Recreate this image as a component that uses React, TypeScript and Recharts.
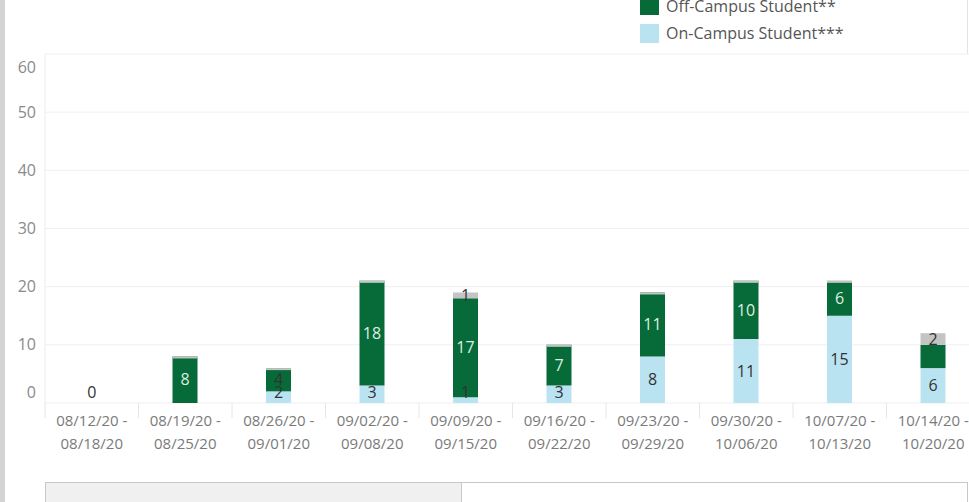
import React from 'react';
import { BarChart, Bar, XAxis, YAxis, CartesianGrid, LabelList, ReferenceDot } from 'recharts';

const weekStarts = ['08/12/20', '08/19/20', '08/26/20', '09/02/20', '09/09/20', '09/16/20', '09/23/20', '09/30/20', '10/07/20', '10/14/20'];
const weekEnds = ['08/18/20', '08/25/20', '09/01/20', '09/08/20', '09/15/20', '09/22/20', '09/29/20', '10/06/20', '10/13/20', '10/20/20'];
const onCampus: (number | null)[] = [0, null, 2, 3, 1, 3, 8, 11, 15, 6];
const offCampus: (number | null)[] = [null, 8, 4, 18, 17, 7, 11, 10, 6, 4];
const other: (number | null)[] = [null, null, null, null, 1, null, null, null, null, 2];
const hiddenOffLabels = ['10/14/20 - 10/20/20'];
const yTicks = [0, 10, 20, 30, 40, 50, 60];

const GREEN = '#066b38';
const BLUE = '#bae3f2';
const GRAY = '#c4c4c4';
const FONT = '"Open Sans", sans-serif';

const data = weekStarts.map((s, i) => ({
  week: `${s} - ${weekEnds[i]}`,
  start: s,
  end: weekEnds[i],
  on: onCampus[i],
  off: offCampus[i],
  other: other[i],
}));

const zeroRows = data.filter((d) => d.on === 0);

const onText = (d: any) => (d.on === null || d.on === undefined || d.on === 0 ? null : String(d.on));
const offText = (d: any) => (!d.off || hiddenOffLabels.includes(d.week) ? null : String(d.off));
const otherText = (d: any) => (!d.other ? null : String(d.other));

const XTick = (props: any) => {
  const { x, y, payload } = props;
  const half = payload && typeof payload.offset === 'number' && payload.offset > 0 ? payload.offset : 46.75;
  const d = data.find((r) => r.week === payload.value);
  return (
    <g>
      <line x1={x - half} x2={x - half} y1={y} y2={y + 15} stroke="#e6e6e6" />
      <text x={x} y={y + 23} textAnchor="middle" fill="#7a7a7a" fontSize={15} fontFamily={FONT}>
        {d ? d.start + ' -' : ''}
      </text>
      <text x={x} y={y + 46} textAnchor="middle" fill="#7a7a7a" fontSize={15} fontFamily={FONT}>
        {d ? d.end : ''}
      </text>
    </g>
  );
};

const YTick = (props: any) => {
  const { y, payload } = props;
  let shift = 0;
  if (payload.value === 0) shift = -11;
  if (payload.value === 60) shift = 13;
  return (
    <text x={36} y={y + shift} dy="0.35em" textAnchor="end" fill="#8a8a8a" fontSize={16} fontFamily={FONT}>
      {payload.value}
    </text>
  );
};

const OnLabel = (props: any) => {
  const { x, y, width, height, value } = props;
  if (value === null || value === undefined || value === '') return null;
  let cy = y + (height || 0) / 2;
  if (cy > 392) cy = 392;
  return (
    <text x={x + width / 2} y={cy} dy="0.35em" textAnchor="middle" fill="#333" fontSize={16} fontFamily={FONT}>
      {value}
    </text>
  );
};

const ZeroLabel = (props: any) => {
  const vb = props.viewBox || {};
  const cx = (vb.x || 0) + (vb.width || 0) / 2;
  let cy = (vb.y || 0) + (vb.height || 0) / 2;
  if (cy > 392) cy = 392;
  return (
    <text x={cx} y={cy} dy="0.35em" textAnchor="middle" fill="#333" fontSize={16} fontFamily={FONT}>
      {props.text}
    </text>
  );
};

const OffLabel = (props: any) => {
  const { x, y, width, height, value } = props;
  if (!value) return null;
  const fill = height < 26 ? '#333' : '#dcefe2';
  return (
    <text x={x + width / 2} y={y + height / 2} dy="0.35em" textAnchor="middle" fill={fill} fontSize={16} fontFamily={FONT}>
      {value}
    </text>
  );
};

const OtherLabel = (props: any) => {
  const { x, y, width, height, value } = props;
  if (!value) return null;
  return (
    <text x={x + width / 2} y={y + height / 2} dy="0.35em" textAnchor="middle" fill="#333" fontSize={16} fontFamily={FONT}>
      {value}
    </text>
  );
};

const OtherShape = (props: any) => {
  const { x, y, width, height, payload } = props;
  const total = (payload.on || 0) + (payload.off || 0) + (payload.other || 0);
  if (!total || isNaN(y)) return null;
  return <rect x={x} y={y} width={width} height={Math.max(height || 0, 2)} fill={GRAY} />;
};

export default function App() {
  return (
    <div style={{ position: 'absolute', left: 0, top: 0, width: 969, height: 502, overflow: 'hidden', background: '#fff', fontFamily: FONT }}>
      <div style={{ position: 'absolute', left: 0, top: 0, width: 5, height: 502, background: '#d3d3d3' }} />
      <div style={{ position: 'absolute', left: 967, top: 0, width: 1, height: 54, background: '#e4e4e4' }} />
      <div style={{ position: 'absolute', left: 640, top: -4, width: 19, height: 19, background: GREEN }} />
      <div style={{ position: 'absolute', left: 666, top: -5, height: 22, lineHeight: '22px', fontSize: 16, color: '#555' }}>Off-Campus Student**</div>
      <div style={{ position: 'absolute', left: 640, top: 24, width: 19, height: 19, background: BLUE }} />
      <div style={{ position: 'absolute', left: 666, top: 22, height: 22, lineHeight: '22px', fontSize: 16, color: '#555' }}>On-Campus Student***</div>
      <div style={{ position: 'absolute', left: 0, top: 0 }}>
        <BarChart width={985} height={473} data={data} margin={{ top: 54, right: 5, bottom: 0, left: 0 }} barSize={25}>
          <CartesianGrid horizontal vertical={false} stroke="#efefef" />
          <XAxis dataKey="week" interval={0} tick={<XTick />} tickLine={false} axisLine={false} tickSize={0} tickMargin={0} height={70} />
          <YAxis domain={[0, 60]} ticks={yTicks} width={45} tick={<YTick />} tickLine={false} axisLine={{ stroke: '#ececec' }} interval={0} />
          <Bar dataKey="on" stackId="a" fill={BLUE} isAnimationActive={false}>
            <LabelList dataKey={onText} content={<OnLabel />} />
          </Bar>
          <Bar dataKey="off" stackId="a" fill={GREEN} isAnimationActive={false}>
            <LabelList dataKey={offText} content={<OffLabel />} />
          </Bar>
          <Bar dataKey="other" stackId="a" fill={GRAY} shape={<OtherShape />} isAnimationActive={false}>
            <LabelList dataKey={otherText} content={<OtherLabel />} />
          </Bar>
          {zeroRows.map((d) => (
            <ReferenceDot
              key={d.week}
              x={d.week}
              y={d.on as number}
              r={1}
              fill="none"
              stroke="none"
              label={<ZeroLabel text={String(d.on)} />}
            />
          ))}
        </BarChart>
      </div>
      <div style={{ position: 'absolute', left: 45, top: 482, width: 415, height: 30, background: '#f0f0f0', border: '1px solid #c8c8c8' }} />
      <div style={{ position: 'absolute', left: 461, top: 482, width: 505, height: 30, background: '#fff', border: '1px solid #c8c8c8' }} />
    </div>
  );
}
